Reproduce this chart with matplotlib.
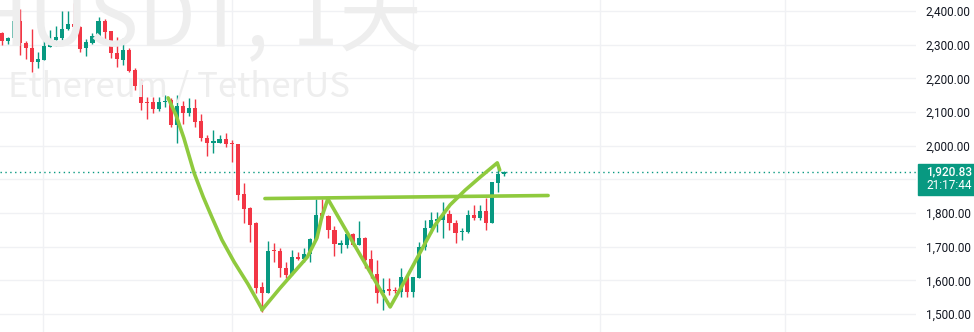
import numpy as np
import matplotlib.pyplot as plt
import matplotlib.transforms as mtransforms
from matplotlib.patches import Rectangle

# daily ETH/USDT candles (open, high, low, close)
opens = [2335, 2311, 2320, 2370, 2305, 2290, 2249, 2254, 2293, 2314, 2320, 2347, 2361, 2352,
         2290, 2305, 2323, 2370, 2341, 2275, 2254, 2284, 2225, 2180, 2130, 2130, 2109, 2130,
         2136, 2061, 2118, 2097, 2112, 2073, 2023, 2008, 2008, 2020, 2008, 2005, 1856, 1815,
         1770, 1580, 1562, 1690, 1687, 1637, 1619, 1669, 1663, 1678, 1720, 1800, 1791, 1750,
         1705, 1705, 1738, 1705, 1726, 1663, 1619, 1562, 1574, 1571, 1565, 1610, 1565, 1607,
         1699, 1756, 1776, 1779, 1797, 1770, 1744, 1744, 1794, 1785, 1806, 1770, 1889, 1916]
highs = [2338, 2323, 2379, 2406, 2311, 2347, 2278, 2323, 2344, 2356, 2400, 2400, 2424, 2355,
         2317, 2335, 2382, 2376, 2341, 2323, 2320, 2290, 2231, 2198, 2145, 2145, 2145, 2150,
         2142, 2150, 2133, 2142, 2139, 2094, 2032, 2047, 2032, 2038, 2017, 2005, 1889, 1818,
         1773, 1595, 1717, 1711, 1696, 1655, 1690, 1684, 1696, 1726, 1842, 1842, 1794, 1761,
         1720, 1744, 1741, 1776, 1729, 1690, 1660, 1607, 1607, 1580, 1637, 1610, 1610, 1714,
         1779, 1803, 1803, 1833, 1809, 1779, 1756, 1809, 1824, 1824, 1845, 1892, 1943, 1925]
lows = [2299, 2302, 2311, 2269, 2257, 2219, 2231, 2254, 2293, 2296, 2314, 2344, 2338, 2278,
        2266, 2302, 2323, 2305, 2260, 2234, 2240, 2219, 2165, 2106, 2079, 2097, 2103, 2115,
        2055, 2008, 2064, 2088, 2055, 2014, 1969, 1978, 2008, 1996, 1951, 1839, 1770, 1714,
        1562, 1506, 1562, 1655, 1610, 1607, 1616, 1660, 1655, 1655, 1720, 1785, 1726, 1672,
        1681, 1696, 1702, 1705, 1637, 1607, 1533, 1512, 1557, 1562, 1551, 1551, 1551, 1607,
        1690, 1741, 1744, 1726, 1750, 1711, 1720, 1741, 1779, 1779, 1750, 1770, 1862, 1910]
closes = [2311, 2320, 2370, 2305, 2290, 2249, 2257, 2296, 2317, 2323, 2347, 2361, 2352, 2287,
          2308, 2326, 2370, 2338, 2275, 2257, 2284, 2222, 2177, 2127, 2127, 2109, 2130, 2133,
          2061, 2118, 2097, 2112, 2070, 2023, 2008, 2014, 2020, 2005, 2005, 1853, 1812, 1764,
          1577, 1562, 1687, 1687, 1637, 1616, 1669, 1663, 1678, 1723, 1794, 1791, 1750, 1708,
          1711, 1738, 1705, 1726, 1660, 1619, 1562, 1571, 1568, 1568, 1610, 1565, 1610, 1699,
          1756, 1779, 1782, 1797, 1770, 1741, 1747, 1794, 1785, 1806, 1770, 1892, 1916, 1920.83]

# hand drawn pattern lines (candle index, price)
cup_left_x = [27.5, 28.8, 30.1, 31.8, 33.3, 34.8, 36.4, 38.4, 40.7, 43.0]
cup_left_y = [2142, 2091, 2023, 1919, 1848, 1785, 1720, 1655, 1589, 1515]
cup_right_x = [43.0, 46.0, 48.2, 50.5, 52.1, 52.9, 53.9]
cup_right_y = [1512, 1577, 1622, 1669, 1726, 1788, 1842]
v_x = [53.9, 64.2, 66.7, 69.1, 71.6, 74.1, 76.6, 79.1, 81.9, 82.3]
v_y = [1842, 1521, 1601, 1681, 1764, 1824, 1868, 1907, 1949, 1928]
neck_x = [43.5, 90.3]
neck_y = [1843, 1852]

price_ticks = [1500, 1600, 1700, 1800, 2000, 2100, 2200, 2300, 2400]
month_lines = [6.8, 38.1, 68.0, 98.9, 129.5]
last_time = "21:17:44"

up_col = "#089981"
down_col = "#f23645"
draw_col = "#8fca3e"

fig = plt.figure(figsize=(9.74, 3.32), dpi=100)
ax = fig.add_axes([0, 0, 916 / 974, 1])

# watermark, split so the spacing follows the screenshot
wm = ["Noto Sans CJK SC", "DejaVu Sans"]
wm_kw = dict(fontsize=60, color="#eeeeee", family=wm, ha="right", va="baseline", zorder=0)
fig.text(270 / 974, 1 - 45 / 332, "ETHUSDT,", **wm_kw)
fig.text(338 / 974, 1 - 45 / 332, "1", **wm_kw)
fig.text(422 / 974, 1 - 45 / 332, "天", **wm_kw)
fig.text(8 / 974, 1 - 97 / 332, "Ethereum / TetherUS", fontsize=25, color="#eeeeee",
         family=wm, ha="left", va="baseline", zorder=0)
ax.patch.set_alpha(0)

for p in price_ticks + [1900]:
    ax.axhline(p, color="#f0f1f4", lw=1, zorder=1)
for m in month_lines:
    ax.axvline(m, color="#f0f1f4", lw=1, zorder=1)

idx = np.arange(len(opens))
o = np.array(opens, float)
c = np.array(closes, float)
h = np.array(highs, float)
l = np.array(lows, float)
cols = [up_col if cc >= oo else down_col for oo, cc in zip(o, c)]
ax.vlines(idx, l, h, colors=cols, lw=1, zorder=3)
body = np.maximum(np.abs(c - o), 2.5)
ax.bar(idx, body, bottom=np.minimum(o, c), width=0.68, color=cols, zorder=4)

# last price line
ax.axhline(closes[-1], color=up_col, lw=1, ls=(0, (1, 2.5)), zorder=2)

kw = dict(color=draw_col, lw=2.6, solid_capstyle="round", solid_joinstyle="round", zorder=5)
ax.plot(cup_left_x, cup_left_y, **kw)
ax.plot(cup_right_x, cup_right_y, **kw)
ax.plot(v_x, v_y, **kw)
ax.plot(neck_x, neck_y, **kw)

ax.set_xlim(-0.28, 151.1)
ax.set_ylim(1446.6, 2432.7)
for s in ax.spines.values():
    s.set_visible(False)
ax.set_xticks([])
ax.yaxis.tick_right()
ax.set_yticks(price_ticks)
ax.set_yticklabels([f"{p:,.2f}" for p in price_ticks])
ax.tick_params(axis="y", length=0, pad=7, labelsize=8.5, labelcolor="#131722")
for t in ax.get_yticklabels():
    t.set_family("Roboto")

# price label on the axis
tr = mtransforms.blended_transform_factory(ax.transAxes, ax.transData)
ppx = (2432.7 - 1446.6) / 332
ax.add_patch(Rectangle((1 + 2 / 916, closes[-1] - 23 * ppx), 60 / 916, 31 * ppx,
                       transform=tr, color=up_col, clip_on=False, zorder=6))
ax.text(1 + 10 / 916, closes[-1], f"{closes[-1]:,.2f}", transform=tr, color="white",
        fontsize=8.5, family="Roboto", fontweight="medium", va="center", ha="left", zorder=7)
ax.text(1 + 10 / 916, closes[-1] - 13.5 * ppx, last_time, transform=tr, color="white",
        fontsize=8.5, family="Roboto", va="center", ha="left", zorder=7)

fig.savefig("out.png", dpi=100, facecolor="white")
